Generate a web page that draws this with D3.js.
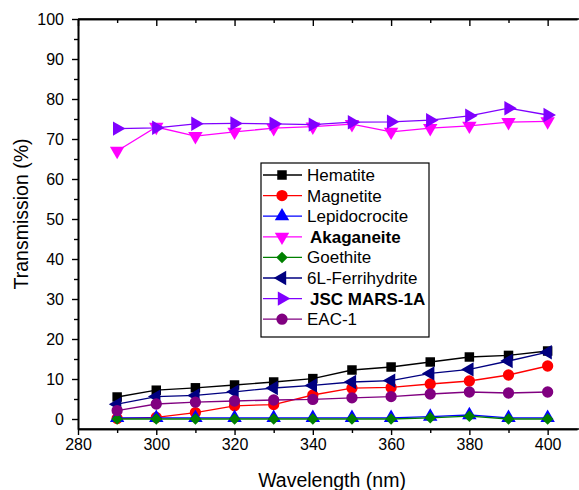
<!DOCTYPE html>
<html>
<head>
<meta charset="utf-8">
<script src="https://cdn.jsdelivr.net/npm/d3@7"></script>
<style>
  body { margin: 0; background: #fff; }
  svg text { font-family: "Liberation Sans", Arial, sans-serif; fill: #000; }
</style>
</head>
<body>
<svg id="chart" width="579" height="490"></svg>
<script>
// wavelengths (nm)
const wavelength = [290, 300, 310, 320, 330, 340, 350, 360, 370, 380, 390, 400];

// transmission (%) per sample
const hematite      = [5.5, 7.2, 7.8, 8.5, 9.25, 10.1, 12.25, 13, 14.25, 15.5, 15.9, 17];
const magnetite     = [0.1, 0.4, 1.6, 3.3, 3.6, 6.0, 7.7, 7.9, 8.75, 9.5, 11, 13.25];
const lepidocrocite = [0.3, 0.3, 0.3, 0.3, 0.3, 0.3, 0.3, 0.3, 0.6, 1.0, 0.3, 0.3];
const akaganeite    = [67, 73, 70.7, 71.8, 72.7, 73.1, 73.7, 71.8, 72.7, 73.3, 74.2, 74.4];
const goethite      = [0, 0, 0, 0, 0, 0, 0, 0, 0.3, 0.7, 0, 0];
const ferrihydrite  = [3.7, 5.6, 5.9, 6.8, 7.75, 8.4, 9.25, 9.6, 11.4, 12.4, 14.5, 16.7];
const jscMars       = [72.6, 72.8, 73.8, 73.9, 73.8, 73.6, 74.2, 74.3, 74.7, 75.8, 77.7, 76];
const eac1          = [2.1, 3.75, 4.2, 4.5, 4.75, 4.9, 5.3, 5.6, 6.25, 6.75, 6.5, 6.75];

const seriesNames = ["Hematite", "Magnetite", "Lepidocrocite", "Akaganeite", "Goethite",
                     "6L-Ferrihydrite", "JSC MARS-1A", "EAC-1"];
const seriesValues = [hematite, magnetite, lepidocrocite, akaganeite, goethite,
                      ferrihydrite, jscMars, eac1];

const xTicks = [280, 300, 320, 340, 360, 380, 400];
const yTicks = [0, 10, 20, 30, 40, 50, 60, 70, 80, 90, 100];

// styling per series
const colors = ["#000000", "#ff0000", "#0000ff", "#ff00ff", "#008000", "#000080", "#8000ff", "#800080"];
const shapes = ["square", "circle", "up", "down", "diamond", "left", "right", "circle"];
const boldNames = ["Akaganeite", "JSC MARS-1A"];

const svg = d3.select("#chart");

// plot area
const plotLeft = 78, plotRight = 577, plotTop = 19, plotBottom = 429;

const x = d3.scaleLinear().domain([280, 407.5]).range([plotLeft, plotRight]);
const y = d3.scaleLinear().domain([-2.5, 100]).range([plotBottom, plotTop]);

function symbolPath(shape) {
  if (shape === "square") return d3.symbol(d3.symbolSquare, 90)();
  if (shape === "circle") return d3.symbol(d3.symbolCircle, 100)();
  if (shape === "diamond") return d3.symbol(d3.symbolSquare, 66)();  // rotated 45 below
  return d3.symbol(d3.symbolTriangle, 90)();
}
function symbolRotate(shape) {
  if (shape === "down") return 180;
  if (shape === "left") return -90;
  if (shape === "right") return 90;
  if (shape === "diamond") return 45;
  return 0;
}

// axes
const xAxis = d3.axisBottom(x).tickValues(xTicks).tickSize(6).tickPadding(4).tickSizeOuter(0);
svg.append("g")
  .attr("transform", "translate(0," + plotBottom + ")")
  .call(xAxis);

const xMinor = d3.axisBottom(x).tickValues([290, 310, 330, 350, 370, 390]).tickSize(4).tickFormat("").tickSizeOuter(0);
svg.append("g").attr("transform", "translate(0," + plotBottom + ")").call(xMinor);

const yAxis = d3.axisLeft(y).tickValues(yTicks).tickSize(6).tickPadding(8).tickSizeOuter(0);
svg.append("g")
  .attr("transform", "translate(" + plotLeft + ",0)")
  .call(yAxis);

const yMinor = d3.axisLeft(y).tickValues(d3.range(5, 100, 10)).tickSize(4).tickFormat("").tickSizeOuter(0);
svg.append("g").attr("transform", "translate(" + plotLeft + ",0)").call(yMinor);

// top axis, ticks pointing inside
const topAxis = d3.axisTop(x).tickValues(xTicks).tickSize(-7).tickFormat("").tickSizeOuter(0);
svg.append("g").attr("transform", "translate(0," + plotTop + ")").call(topAxis);
const topMinor = d3.axisTop(x).tickValues([290, 310, 330, 350, 370, 390]).tickSize(-4).tickFormat("").tickSizeOuter(0);
svg.append("g").attr("transform", "translate(0," + plotTop + ")").call(topMinor);

svg.selectAll(".domain").attr("stroke", "#000").attr("stroke-width", 1.6);
svg.selectAll(".tick line").attr("stroke", "#000").attr("stroke-width", 1.4);
svg.selectAll(".tick text").style("font-size", "16px").attr("fill", "#000");

// frame lines across the full width
svg.append("line").attr("x1", plotLeft).attr("x2", plotRight + 2).attr("y1", plotBottom).attr("y2", plotBottom)
  .attr("stroke", "#000").attr("stroke-width", 1.6);
svg.append("line").attr("x1", plotLeft).attr("x2", plotRight + 2).attr("y1", plotTop).attr("y2", plotTop)
  .attr("stroke", "#000").attr("stroke-width", 1.6);

// axis titles
svg.append("text")
  .attr("x", 332).attr("y", 487)
  .attr("text-anchor", "middle")
  .style("font-size", "19.5px")
  .text("Wavelength (nm)");

svg.append("text")
  .attr("transform", "translate(28,214) rotate(-90)")
  .attr("text-anchor", "middle")
  .style("font-size", "19.5px")
  .text("Transmission (%)");

// series
const line = d3.line()
  .x(function(d, i) { return x(wavelength[i]); })
  .y(function(d) { return y(d); });

seriesValues.forEach(function(vals, s) {
  const g = svg.append("g").attr("class", "series");
  g.append("path")
    .datum(vals)
    .attr("d", line)
    .attr("fill", "none")
    .attr("stroke", colors[s])
    .attr("stroke-width", 1.3);

  g.selectAll("path.pt")
    .data(vals)
    .enter().append("path")
    .attr("class", "pt")
    .attr("d", symbolPath(shapes[s]))
    .attr("transform", function(d, i) {
      return "translate(" + x(wavelength[i]) + "," + y(d) + ") rotate(" + symbolRotate(shapes[s]) + ")";
    })
    .attr("fill", colors[s]);
});

// legend
const lg = svg.append("g");
lg.append("rect")
  .attr("x", 261).attr("y", 163)
  .attr("width", 168).attr("height", 174)
  .attr("fill", "#fff")
  .attr("stroke", "#000")
  .attr("stroke-width", 1.2);

seriesNames.forEach(function(name, s) {
  const cy = 175 + s * 20.6;
  lg.append("line")
    .attr("x1", 263).attr("x2", 302)
    .attr("y1", cy).attr("y2", cy)
    .attr("stroke", colors[s])
    .attr("stroke-width", 1.3);
  lg.append("path")
    .attr("d", symbolPath(shapes[s]))
    .attr("transform", "translate(282," + cy + ") rotate(" + symbolRotate(shapes[s]) + ")")
    .attr("fill", colors[s]);
  lg.append("text")
    .attr("x", boldNames.includes(name) ? 310 : 307)
    .attr("y", cy + 6)
    .style("font-size", "17px")
    .style("font-weight", boldNames.includes(name) ? "bold" : "normal")
    .text(name);
});
</script>
</body>
</html>
